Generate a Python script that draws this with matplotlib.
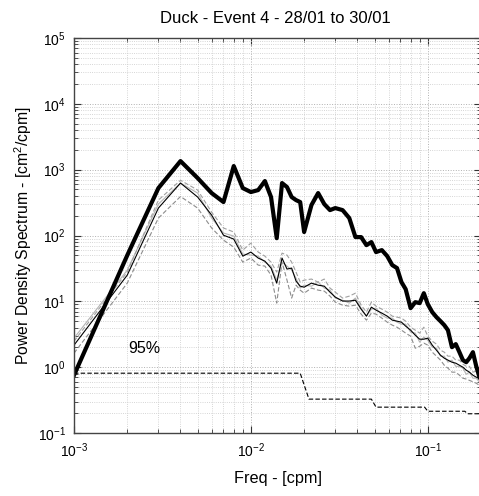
import numpy as np
import matplotlib
matplotlib.use("Agg")
import matplotlib.pyplot as plt
from matplotlib.ticker import FixedLocator, LogLocator, LogFormatterMathtext, NullFormatter

plt.rcParams['font.family'] = ['Liberation Sans', 'DejaVu Sans']
plt.rcParams['mathtext.fontset'] = 'custom'
plt.rcParams['mathtext.rm'] = 'Liberation Sans'
plt.rcParams['mathtext.it'] = 'Liberation Sans:italic'

# frequency grid [cpm]
freq = [0.001, 0.002, 0.003, 0.004, 0.005, 0.006, 0.007, 0.008, 0.009, 0.010,
        0.011, 0.012, 0.013, 0.014, 0.015, 0.016, 0.017, 0.018, 0.019, 0.020,
        0.022, 0.024, 0.026, 0.028, 0.030, 0.033, 0.036, 0.039, 0.042, 0.045,
        0.048, 0.051, 0.055, 0.059, 0.063, 0.067, 0.071, 0.075, 0.080, 0.085,
        0.090, 0.095, 0.100, 0.106, 0.112, 0.118, 0.124, 0.130, 0.137, 0.144,
        0.151, 0.158, 0.165, 0.172, 0.180, 0.188, 0.196]

# thick black spectrum
psd_main = [0.755, 50, 525, 1350, 745, 441, 322, 1135, 525, 457,
            490, 671, 384, 91, 626, 544, 384, 345, 322, 113,
            290, 441, 300, 243, 261, 243, 184, 94.6, 94.6, 71.4,
            79.4, 56.0, 60.0, 48.6, 35.5, 32.0, 19.6, 15.3, 7.88, 9.72,
            9.40, 13.3, 9.06, 6.86, 5.75, 5.00, 4.35, 3.65, 2.01, 2.24,
            1.69, 1.28, 1.19, 1.37, 1.69, 1.03, 0.705]

# thin black spectrum
psd_mean = [2.16, 25.0, 261, 626, 384, 204, 101, 88.2, 48.6, 56.0,
            45.4, 40.8, 32.0, 18.9, 45.4, 30.9, 32.0, 20.3, 17.0, 16.4,
            18.9, 17.6, 17.0, 13.8, 11.6, 10.1, 10.1, 10.4, 7.61, 5.96,
            8.16, 7.35, 6.62, 5.96, 5.18, 5.00, 4.83, 4.20, 3.65, 3.06,
            2.66, 2.66, 2.76, 2.16, 1.81, 1.52, 1.37, 1.28, 1.19, 1.15,
            1.07, 1.00, 0.90, 0.84, 0.755, 0.705, 0.68]

# gray spectra
psd_a = [2.48, 27.8, 345, 690, 490, 226, 130, 113, 60.0, 76.6,
         56.0, 48.6, 39.4, 27.8, 54.0, 50.4, 39.4, 27.8, 19.6, 21.0,
         21.8, 19.6, 21.8, 15.9, 13.8, 11.2, 12.0, 13.3, 8.75, 6.86,
         9.72, 8.45, 7.61, 6.86, 5.96, 5.75, 5.56, 5.00, 4.05, 3.65,
         3.29, 4.05, 2.96, 2.48, 2.24, 1.81, 1.69, 1.47, 1.47, 1.28,
         1.28, 1.11, 1.03, 1.03, 0.84, 0.87, 0.78]

psd_b = [1.63, 18.9, 184, 391, 261, 130, 85, 66.6, 39.4, 45.4,
         35.5, 34.3, 25.0, 9.40, 39.4, 21.0, 11.2, 17.6, 14.8, 13.3,
         15.9, 14.8, 14.3, 12.0, 9.72, 8.75, 8.45, 8.75, 6.39, 5.18,
         6.62, 6.39, 5.56, 4.83, 4.35, 4.05, 3.65, 3.29, 2.96, 1.94,
         2.08, 2.32, 2.16, 1.69, 1.47, 1.28, 1.07, 0.966, 0.84, 0.84,
         0.755, 0.68, 0.66, 0.63, 0.60, 0.57, 0.53]

psd_c = [2.76, 29.8, 300, 626, 441, 184, 109, 98, 52.2, 50.4,
         48.6, 39.4, 34.3, 21.0, 39.4, 34.3, 29.8, 22.5, 15.9, 17.6,
         17.0, 19.6, 15.9, 14.8, 11.2, 10.4, 9.40, 11.2, 7.88, 5.96,
         7.61, 7.88, 6.17, 5.56, 5.56, 4.83, 4.50, 4.50, 3.40, 3.29,
         2.40, 2.86, 2.57, 2.01, 1.94, 1.47, 1.47, 1.19, 1.28, 1.03,
         1.03, 0.966, 0.78, 0.84, 0.68, 0.68, 0.59]

# 95% confidence level
conf_f = [0.001, 0.019, 0.0213, 0.048, 0.051, 0.096, 0.100, 0.162, 0.168, 0.2]
conf_p = [0.81, 0.81, 0.327, 0.327, 0.247, 0.247, 0.214, 0.214, 0.196, 0.196]

xticks = [1e-3, 1e-2, 1e-1]
yticks = [1e-1, 1e0, 1e1, 1e2, 1e3, 1e4, 1e5]

fig = plt.figure(figsize=(4.79, 4.96), dpi=100)
ax = fig.add_axes([0.1545, 0.127, 0.8497, 0.7964])

ax.plot(freq, psd_b, color='#8c8c8c', lw=0.8, ls=(0, (4, 2)))
ax.plot(freq, psd_c, color='#b4b4b4', lw=0.8)
ax.plot(freq, psd_a, color='#a0a0a0', lw=0.8, ls=(0, (4, 2)))
ax.plot(freq, psd_mean, color='black', lw=0.8)
ax.plot(freq, psd_main, color='black', lw=3.0)
ax.plot(conf_f, conf_p, color='black', lw=0.8, ls=(0, (4, 2)))
ax.text(0.00202, 1.95, '95%', fontsize=11.5, va='center', ha='left')

ax.set_xscale('log')
ax.set_yscale('log')
ax.set_xlim(1e-3, 2e-1)
ax.set_ylim(1e-1, 1e5)

ax.xaxis.set_major_locator(FixedLocator(xticks))
ax.yaxis.set_major_locator(FixedLocator(yticks))
ax.xaxis.set_minor_locator(LogLocator(base=10, subs=np.arange(2, 10), numticks=10))
ax.yaxis.set_minor_locator(LogLocator(base=10, subs=np.arange(2, 10), numticks=10))
ax.xaxis.set_major_formatter(LogFormatterMathtext())
ax.yaxis.set_major_formatter(LogFormatterMathtext())
ax.xaxis.set_minor_formatter(NullFormatter())
ax.yaxis.set_minor_formatter(NullFormatter())

ax.grid(True, which='major', ls=':', color='#b0b0b0', lw=0.7)
ax.grid(True, which='minor', ls=':', color='#c8c8c8', lw=0.6)
ax.set_axisbelow(True)

ax.tick_params(which='both', direction='in', top=True, right=True, colors='#333333',
               labelcolor='black', labelsize=10)
ax.tick_params(which='major', length=5, width=0.8, pad=6)
ax.tick_params(which='minor', length=3, width=0.6)
for s in ax.spines.values():
    s.set_color('#444444')
    s.set_linewidth(1.0)

ax.text(0.4951, 1.0506, 'Duck - Event 4 - 28/01 to 30/01', fontsize=12,
        ha='center', va='center', transform=ax.transAxes)
ax.set_xlabel('Freq - [cpm]', fontsize=11.7, va='center')
ax.xaxis.set_label_coords(0.5, -0.114)
ax.set_ylabel('Power Density Spectrum - [cm$^2$/cpm]', fontsize=11.3, va='center')
ax.yaxis.set_label_coords(-0.125, 0.5)

fig.savefig('out.png', dpi=100)
